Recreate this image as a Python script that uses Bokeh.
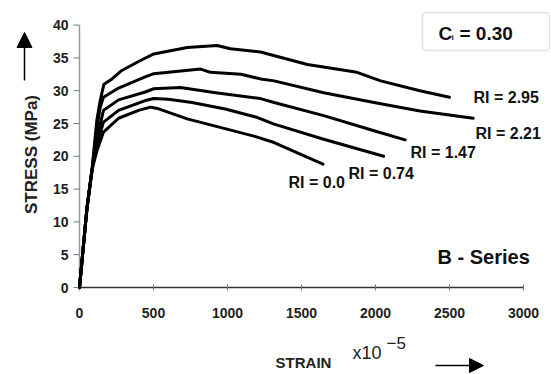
import math
from bokeh.plotting import figure
from bokeh.models import Arrow, NormalHead, BoxAnnotation, Range1d
from bokeh.core.properties import value
from bokeh.embed import file_html
from bokeh.resources import INLINE

# ---- data (strain x10^-5, stress MPa) ----
strain_295 = [0, 50, 85, 117, 140, 165, 220, 280, 412, 502, 728, 930, 1020, 1223, 1540, 1875, 2035, 2300, 2500]
stress_295 = [0, 12, 18, 25.5, 28.5, 31.0, 31.8, 33.0, 34.6, 35.6, 36.6, 36.9, 36.4, 35.9, 34.0, 32.8, 31.5, 30.0, 29.0]

strain_221 = [0, 50, 85, 115, 140, 162, 264, 444, 502, 818, 885, 1090, 1223, 1315, 1650, 1990, 2300, 2660]
stress_221 = [0, 12, 18, 24, 27.5, 29.0, 30.4, 32.1, 32.6, 33.3, 32.8, 32.5, 31.8, 31.5, 29.7, 28.2, 26.9, 25.8]

strain_147 = [0, 50, 85, 120, 162, 264, 444, 502, 682, 920, 1223, 1315, 1650, 1990, 2200]
stress_147 = [0, 12, 18, 23, 27.0, 28.6, 29.8, 30.3, 30.5, 29.7, 28.8, 28.2, 26.2, 23.9, 22.5]

strain_074 = [0, 50, 85, 120, 162, 264, 444, 502, 600, 760, 985, 1190, 1315, 1650, 2055]
stress_074 = [0, 12, 18, 22, 25.2, 27.0, 28.5, 28.8, 28.7, 28.2, 27.2, 26.0, 24.9, 22.6, 20.0]

strain_000 = [0, 50, 85, 120, 162, 264, 399, 480, 525, 728, 970, 1190, 1315, 1645]
stress_000 = [0, 12, 18, 21, 23.7, 25.8, 27.0, 27.5, 27.3, 25.7, 24.3, 23.0, 22.1, 18.8]

series = [
    (strain_295, stress_295),
    (strain_221, stress_221),
    (strain_147, stress_147),
    (strain_074, stress_074),
    (strain_000, stress_000),
]
ri_labels = ["RI = 2.95", "RI = 2.21", "RI = 1.47", "RI = 0.74", "RI = 0.0"]

x_ticks = [0, 500, 1000, 1500, 2000, 2500, 3000]
y_ticks = [0, 5, 10, 15, 20, 25, 30, 35, 40]
X_MAX = 3000
Y_MAX = 40

FONT = "Liberation Sans"
W, H = 551, 374

# screen layout: where data origin and extents fall (pixels from top-left)
X0_PX, X1_PX = 79, 523
Y0_PX, Y1_PX = 287, 24.6
SX = (X1_PX - X0_PX) / X_MAX
SY = (Y0_PX - Y1_PX) / Y_MAX


def dx(px):
    return (px - X0_PX) / SX


def dy(py):
    return (Y0_PX - py) / SY


p = figure(width=W, height=H, output_backend="svg", toolbar_location=None,
           x_axis_type=None, y_axis_type=None,
           x_range=Range1d(dx(0), dx(W)), y_range=Range1d(dy(H), dy(0)),
           min_border=0, min_border_left=0, min_border_right=0,
           min_border_top=0, min_border_bottom=0)
p.outline_line_color = None
p.grid.visible = False
p.background_fill_color = "white"
p.border_fill_color = "white"

# Ci box (drawn beneath the texts)
p.add_layout(BoxAnnotation(left=dx(422), right=dx(549), bottom=dy(50), top=dy(12),
                           fill_color="white", fill_alpha=1.0, line_color="#999999",
                           line_width=1.5, border_radius=4, level="underlay"))

# ---- axes drawn from the tick arrays ----
p.segment(x0=[0], y0=[0], x1=[X_MAX], y1=[0], line_color="#333333", line_width=1.5)
p.segment(x0=[0], y0=[0], x1=[0], y1=[Y_MAX], line_color="#999999", line_width=1.5)
p.segment(x0=x_ticks, y0=[dy(290)] * len(x_ticks), x1=x_ticks, y1=[dy(284)] * len(x_ticks),
          line_color="#777777", line_width=1)
p.segment(x0=[dx(73)] * len(y_ticks), y0=y_ticks, x1=[0] * len(y_ticks), y1=y_ticks,
          line_color="#777777", line_width=1)
p.text(x=x_ticks, y=[dy(312)] * len(x_ticks), text=[str(t) for t in x_ticks],
       text_font=value(FONT), text_font_style="bold", text_font_size="14px",
       text_align="center", text_baseline="middle", text_color="#222222")
p.text(x=[dx(68)] * len(y_ticks), y=y_ticks, text=[str(t) for t in y_ticks],
       text_font=value(FONT), text_font_style="bold", text_font_size="14px",
       text_align="right", text_baseline="middle", text_color="#222222")

# y-axis title + arrow
p.text(x=[dx(31)], y=[dy(154)], text=["STRESS (MPa)"], angle=math.pi / 2,
       text_font=value(FONT), text_font_style="bold", text_font_size="17px",
       text_align="center", text_baseline="middle", text_color="#222222")
p.add_layout(Arrow(end=NormalHead(size=15, fill_color="black", line_color="black"),
                   x_start=dx(24), y_start=dy(80), x_end=dx(24), y_end=dy(32),
                   line_color="black", line_width=1.5))

# x-axis title + arrow
p.text(x=[dx(303)], y=[dy(362)], text=["STRAIN"],
       text_font=value(FONT), text_font_style="bold", text_font_size="15px",
       text_align="center", text_baseline="middle", text_color="#222222")
p.text(x=[dx(352)], y=[dy(352)], text=["x10"],
       text_font=value(FONT), text_font_size="18px",
       text_align="left", text_baseline="middle", text_color="#222222")
p.text(x=[dx(386)], y=[dy(342)], text=["\u22125"],
       text_font=value(FONT), text_font_size="17px",
       text_align="left", text_baseline="middle", text_color="#222222")
p.add_layout(Arrow(end=NormalHead(size=14, fill_color="black", line_color="black"),
                   x_start=dx(435), y_start=dy(365), x_end=dx(483), y_end=dy(365),
                   line_color="black", line_width=1.5))

# ---- curves ----
for xs, ys in series:
    p.line(xs, ys, line_color="black", line_width=3, line_join="round", line_cap="round")

# RI labels
ri_pos = [(473, 97), (475, 133), (410, 152), (348, 173), (288, 182)]
p.text(x=[dx(a) for a, b in ri_pos], y=[dy(b) for a, b in ri_pos], text=ri_labels,
       text_font=value(FONT), text_font_style="bold", text_font_size="16px",
       text_align="left", text_baseline="middle", text_color="#111111")

p.text(x=[dx(437)], y=[dy(256)], text=["B - Series"],
       text_font=value(FONT), text_font_style="bold", text_font_size="20px",
       text_align="left", text_baseline="middle", text_color="#111111")

p.text(x=[dx(438)], y=[dy(33)], text=["C"],
       text_font=value(FONT), text_font_style="bold", text_font_size="19px",
       text_align="left", text_baseline="middle", text_color="#111111")
p.text(x=[dx(451)], y=[dy(37)], text=["i"],
       text_font=value(FONT), text_font_style="bold", text_font_size="8px",
       text_align="left", text_baseline="middle", text_color="#111111")
p.text(x=[dx(459)], y=[dy(33)], text=["= 0.30"],
       text_font=value(FONT), text_font_style="bold", text_font_size="19px",
       text_align="left", text_baseline="middle", text_color="#111111")

open("out.html", "w").write(file_html(p, INLINE))
